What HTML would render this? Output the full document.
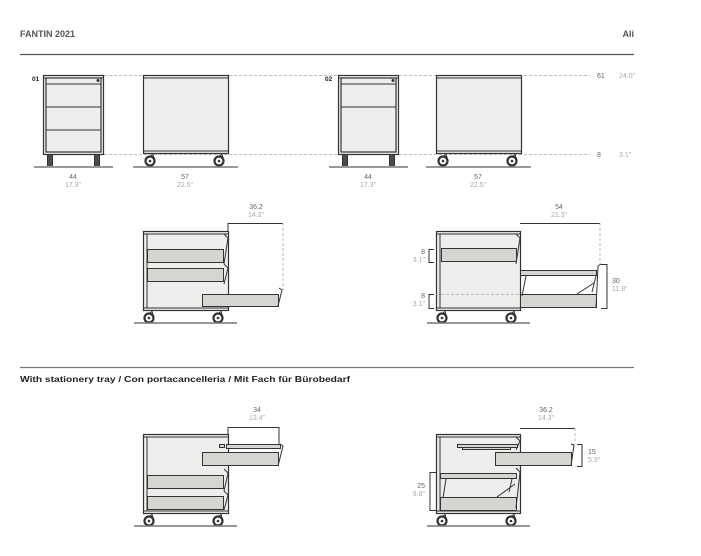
<!DOCTYPE html>
<html><head><meta charset="utf-8"><style>
html,body{margin:0;padding:0;background:#fff;}
svg{display:block;font-family:"Liberation Sans",sans-serif;}
.b{fill:#efeeec;stroke:#333;stroke-width:1.2}
.d{fill:#d6d5d2;stroke:#333;stroke-width:1}
.l{stroke:#333;stroke-width:1;fill:none}
.fl{stroke:#777;stroke-width:1.5}
.ds{stroke:#aaa;stroke-width:0.8;stroke-dasharray:3 2;fill:none}
.t1{font-size:7px;fill:#666;text-anchor:middle}
.t2{font-size:7px;fill:#aaa;text-anchor:middle}
</style></head><body>
<svg width="701" height="556" viewBox="0 0 701 556" xmlns="http://www.w3.org/2000/svg">
<defs>
<g id="wh"><circle r="4.5" fill="none" stroke="#333" stroke-width="2.2"/><circle r="1.3" fill="#333"/><path d="M0,-4.5 L3,-6.5 L4.5,-2" fill="none" stroke="#333" stroke-width="1"/></g>
<g id="lg"><rect x="-3" y="0" width="6" height="11" fill="#333"/><line x1="-1" y1="0" x2="-1" y2="11" stroke="#888" stroke-width="0.6"/><line x1="1" y1="0" x2="1" y2="11" stroke="#888" stroke-width="0.6"/></g>
</defs>
<text x="20" y="37" font-size="9" font-weight="bold" fill="#555">FANTIN 2021</text>
<text x="634" y="37" font-size="9" font-weight="bold" fill="#555" text-anchor="end">Ali</text>
<line x1="20" y1="54.5" x2="634" y2="54.5" stroke="#555" stroke-width="1.2"/>

<line class="ds" x1="104" y1="75.5" x2="590" y2="75.5"/>
<line class="ds" x1="104" y1="154.5" x2="590" y2="154.5"/>
<text x="597" y="78" font-size="7" fill="#666">61</text><text x="619" y="78" font-size="7" fill="#aaa">24.0"</text>
<text x="597" y="157" font-size="7" fill="#666">8</text><text x="619" y="157" font-size="7" fill="#aaa">3.1"</text>

<text x="32" y="81" font-size="6.5" font-weight="bold" fill="#222">01</text>
<rect class="b" x="43.5" y="75.5" width="60" height="79"/>
<line class="l" x1="43.5" y1="78" x2="103.5" y2="78"/>
<rect class="b" x="46" y="78" width="55" height="74" stroke-width="0.8"/>
<line class="l" x1="46" y1="84" x2="101" y2="84"/>
<line class="l" x1="46" y1="107" x2="101" y2="107"/>
<line class="l" x1="46" y1="130" x2="101" y2="130"/>
<circle cx="98" cy="80.5" r="1.5" fill="#333"/>
<use href="#lg" x="50" y="155"/><use href="#lg" x="97" y="155"/>
<line class="fl" x1="34" y1="167" x2="113" y2="167"/>
<text class="t1" x="73" y="179">44</text><text class="t2" x="73" y="187">17.3"</text>
<rect class="b" x="143.5" y="75.5" width="85" height="78"/>
<line class="l" x1="143.5" y1="78" x2="228.5" y2="78"/>
<line class="l" x1="143.5" y1="151" x2="228.5" y2="151"/>
<use href="#wh" x="150" y="161"/><use href="#wh" x="219" y="161"/>
<line class="fl" x1="133" y1="167" x2="238" y2="167"/>
<text class="t1" x="185" y="179">57</text><text class="t2" x="185" y="187">22.5"</text>

<text x="325" y="81" font-size="6.5" font-weight="bold" fill="#222">02</text>
<rect class="b" x="338.5" y="75.5" width="60" height="79"/>
<line class="l" x1="338.5" y1="78" x2="398.5" y2="78"/>
<rect class="b" x="341" y="78" width="55" height="74" stroke-width="0.8"/>
<line class="l" x1="341" y1="84" x2="396" y2="84"/>
<line class="l" x1="341" y1="107" x2="396" y2="107"/>
<circle cx="393" cy="80.5" r="1.5" fill="#333"/>
<use href="#lg" x="345" y="155"/><use href="#lg" x="392" y="155"/>
<line class="fl" x1="329" y1="167" x2="408" y2="167"/>
<text class="t1" x="368" y="179">44</text><text class="t2" x="368" y="187">17.3"</text>
<rect class="b" x="436.5" y="75.5" width="85" height="78"/>
<line class="l" x1="436.5" y1="78" x2="521.5" y2="78"/>
<line class="l" x1="436.5" y1="151" x2="521.5" y2="151"/>
<use href="#wh" x="443" y="161"/><use href="#wh" x="512" y="161"/>
<line class="fl" x1="426" y1="167" x2="531" y2="167"/>
<text class="t1" x="478" y="179">57</text><text class="t2" x="478" y="187">22.5"</text>

<rect class="b" x="143.5" y="231.5" width="85" height="79"/>
<line class="l" x1="143.5" y1="234" x2="228.5" y2="234"/>
<line class="l" x1="147" y1="234" x2="147" y2="308"/>
<line class="l" x1="143.5" y1="308" x2="228.5" y2="308"/>
<rect class="d" x="147.5" y="249.5" width="76" height="13"/>
<rect class="d" x="147.5" y="268.5" width="76" height="13"/>
<path class="l" d="M224,234 L228,238 L224,264 M224,264 L228,268 L224,284"/>
<rect class="d" x="202.5" y="294.5" width="76" height="12"/>
<path class="l" d="M278,306 L282,290 L279,288" stroke-width="1.3"/>
<line class="l" x1="228" y1="223.5" x2="283" y2="223.5" stroke="#777" stroke-width="0.7"/>
<line class="ds" x1="283" y1="223" x2="283" y2="290"/>
<line class="l" x1="228" y1="223" x2="228" y2="231" stroke="#777" stroke-width="0.7"/>
<text class="t1" x="256" y="209">36.2</text><text class="t2" x="256" y="217">14.3"</text>
<use href="#wh" x="149" y="318"/><use href="#wh" x="218" y="318"/>
<line class="fl" x1="134" y1="323" x2="237" y2="323"/>

<rect class="b" x="436.5" y="231.5" width="84" height="79"/>
<line class="l" x1="436.5" y1="234" x2="520.5" y2="234"/>
<line class="l" x1="440" y1="234" x2="440" y2="308"/>
<line class="l" x1="436.5" y1="308" x2="520.5" y2="308"/>
<rect class="d" x="441.5" y="248.5" width="75" height="13"/>
<path class="l" d="M516,234 L520,238 L516,264"/>
<line class="ds" x1="436" y1="294.5" x2="520" y2="294.5"/>
<rect class="d" x="520.5" y="270.5" width="76" height="5"/>
<rect class="d" x="520.5" y="294.5" width="76" height="13"/>
<path class="l" d="M526,276 L522,296 M596,276 L592,292 M577,294 L594,283"/>
<path class="l" d="M596,308 L598,266 L601,264" stroke-width="1.3"/>
<line class="l" x1="520" y1="223.5" x2="600" y2="223.5" stroke="#777" stroke-width="0.7"/>
<line class="ds" x1="600" y1="223" x2="600" y2="264"/>
<text class="t1" x="559" y="209">54</text><text class="t2" x="559" y="217">21.3"</text>
<path class="l" stroke="#555" stroke-width="0.7" d="M601,264.5 H607 V308.5 H601"/>
<text x="612" y="283" font-size="7" fill="#666">30</text><text x="612" y="291" font-size="7" fill="#aaa">11.8"</text>
<path class="l" stroke="#555" stroke-width="0.7" d="M434,249.5 H429 V262.5 H434"/>
<text x="425" y="254" font-size="7" fill="#666" text-anchor="end">8</text><text x="425" y="262" font-size="7" fill="#aaa" text-anchor="end">3.1"</text>
<path class="l" stroke="#555" stroke-width="0.7" d="M434,294.5 H429 V308.5 H434"/>
<text x="425" y="298" font-size="7" fill="#666" text-anchor="end">8</text><text x="425" y="306" font-size="7" fill="#aaa" text-anchor="end">3.1"</text>
<use href="#wh" x="442" y="318"/><use href="#wh" x="511" y="318"/>
<line class="fl" x1="427" y1="323" x2="530" y2="323"/>

<line x1="20" y1="367.5" x2="634" y2="367.5" stroke="#777" stroke-width="1.2"/>
<text x="20" y="382" font-size="8" font-weight="bold" fill="#222" textLength="330" lengthAdjust="spacingAndGlyphs">With stationery tray / Con portacancelleria / Mit Fach für Bürobedarf</text>

<rect class="b" x="143.5" y="434.5" width="85" height="79"/>
<line class="l" x1="143.5" y1="437" x2="228.5" y2="437"/>
<line class="l" x1="147" y1="437" x2="147" y2="511"/>
<line class="l" x1="143.5" y1="511" x2="228.5" y2="511"/>
<rect class="d" x="147.5" y="475.5" width="76" height="13"/>
<rect class="d" x="147.5" y="496.5" width="76" height="13"/>
<path class="l" d="M224,469 L228,473 L224,491 M224,491 L228,495 L224,510"/>
<rect class="d" x="219.5" y="444.5" width="5" height="3"/>
<rect class="d" x="226.5" y="444.5" width="54" height="4"/>
<rect class="d" x="202.5" y="452.5" width="76" height="13"/>
<path class="l" d="M278,466 L283,446 L280,444" stroke-width="1.3"/>
<line class="l" x1="228" y1="427.5" x2="279" y2="427.5" stroke="#777" stroke-width="0.7"/>
<line class="l" x1="228" y1="427" x2="228" y2="434" stroke="#777" stroke-width="0.7"/>
<line class="l" x1="279" y1="427" x2="279" y2="444" stroke="#777" stroke-width="0.7"/>
<text class="t1" x="257" y="412">34</text><text class="t2" x="257" y="420">13.4"</text>
<use href="#wh" x="149" y="521"/><use href="#wh" x="218" y="521"/>
<line class="fl" x1="134" y1="526" x2="237" y2="526"/>

<rect class="b" x="436.5" y="434.5" width="84" height="79"/>
<line class="l" x1="436.5" y1="437" x2="520.5" y2="437"/>
<line class="l" x1="440" y1="437" x2="440" y2="511"/>
<line class="l" x1="436.5" y1="511" x2="520.5" y2="511"/>
<path class="l" d="M516,437 L520,441 L516,450"/>
<rect class="d" x="457.5" y="444.5" width="60" height="3"/>
<rect class="d" x="462.5" y="447.5" width="48" height="2"/>
<rect class="d" x="495.5" y="452.5" width="76" height="13"/>
<path class="l" d="M571,466 L574,445 L571,444" stroke-width="1.3"/>
<line class="l" x1="520" y1="428.5" x2="575" y2="428.5" stroke="#777" stroke-width="0.7"/>
<line class="ds" x1="575" y1="428" x2="575" y2="444"/>
<text class="t1" x="546" y="412">36.2</text><text class="t2" x="546" y="420">14.3"</text>
<path class="l" stroke="#555" stroke-width="0.7" d="M577,444.5 H582 V466.5 H577"/>
<text x="588" y="454" font-size="7" fill="#666">15</text><text x="588" y="462" font-size="7" fill="#aaa">5.9"</text>
<rect class="d" x="440.5" y="473.5" width="76" height="5"/>
<rect class="d" x="440.5" y="497.5" width="76" height="13"/>
<path class="l" d="M446,479 L443,498 M512,479 L509,492 M497,497 L515,484 M516,468 L520,472 L516,508"/>
<path class="l" stroke="#555" stroke-width="0.7" d="M436,472.5 H430 V510.5 H436"/>
<text x="425" y="488" font-size="7" fill="#666" text-anchor="end">25</text><text x="425" y="496" font-size="7" fill="#aaa" text-anchor="end">9.8"</text>
<use href="#wh" x="442" y="521"/><use href="#wh" x="511" y="521"/>
<line class="fl" x1="427" y1="526" x2="530" y2="526"/>
</svg>
</body></html>
